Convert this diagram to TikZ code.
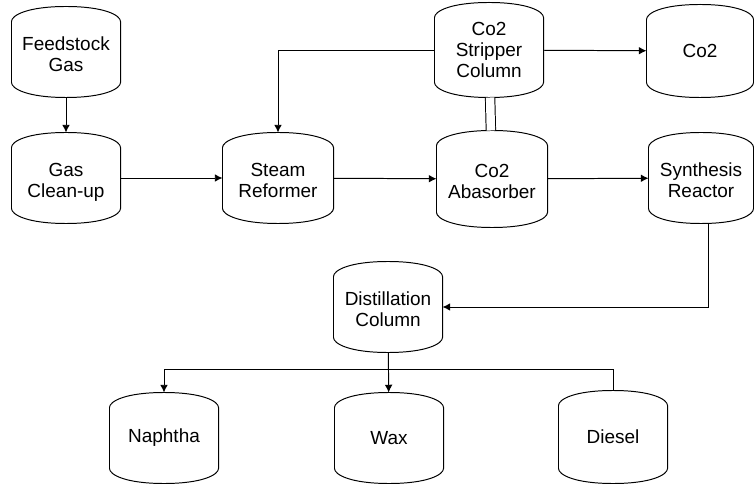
\documentclass[tikz,border=0pt]{standalone}
\usepackage{fontspec}
\setmainfont{Liberation Sans}
\usetikzlibrary{calc,arrows.meta}
\def\drum(#1){\draw ($(#1.south west)+(0,0.375cm)$) -- ($(#1.north west)+(0,-0.375cm)$)
	.. controls +(0,0.16cm) and +(-0.95cm,0) .. (#1.north)
	.. controls +(0.95cm,0) and +(0,0.16cm) .. ($(#1.north east)+(0,-0.375cm)$)
	-- ($(#1.south east)+(0,0.375cm)$)
	.. controls +(0,-0.16cm) and +(0.95cm,0) .. (#1.south)
	.. controls +(-0.95cm,0) and +(0,-0.16cm) .. cycle;}
\def\lbl#1{\raisebox{-0.11cm}[\height][\depth]{\begin{tabular}{@{}c@{}}#1\end{tabular}}}
\tikzset{
	tank/.style={align=center, minimum width=2.7cm, minimum height=2.25cm, inner sep=0pt,
		font=\fontsize{13.5}{15}\selectfont},
	flow/.style={-{Latex[length=5.5pt,width=5.5pt]}}
}

\begin{document}
\begin{tikzpicture}[x=0.025cm, y=-0.025cm, line width=0.7pt]
		%%%%% START %%%%%
		\useasboundingbox (0,0) rectangle (754,484);
		
		\node[tank] (feed) at (66, 52) {\lbl{Feedstock\\Gas}};
		\node[tank] (clean) at (66, 178) {\lbl{Gas\\Clean-up}};
		\node[tank, minimum width=2.75cm] (steam) at (278, 178) {\lbl{Steam\\Reformer}};
		\node[tank, minimum height=2.35cm] (strip) at (489, 50) {Co2\\Stripper\\Column};
		\node[tank, minimum width=2.65cm, minimum height=2.3cm] (co) at (700, 51) {Co2};
		\node[tank, minimum width=2.75cm, minimum height=2.4cm] (absorb) at (492, 179) {\lbl{Co2\\Abasorber}};
		\node[tank, minimum width=2.6cm] (synth) at (701, 178) {\lbl{Synthesis\\Reactor}};
		\node[tank] (dist) at (388, 307) {\lbl{Distillation\\Column}};
		\node[tank] (naph) at (164, 438) {Naphtha};
		\node[tank] (wax) at (389, 438) {Wax};
		\node[tank, minimum height=2.3cm] (dies) at (613, 437) {Diesel};
		
		\drum(feed); \drum(clean); \drum(steam);
		\drum(strip); \drum(co); \drum(absorb); \drum(synth);
		\drum(dist); \drum(naph); \drum(wax); \drum(dies);
		
		\draw[flow] (feed) -- (clean);
		\draw[flow] (clean) -- (steam);
		\draw[flow] (steam) -- (absorb);
		\draw[flow] (absorb) -- (synth);
		\draw[flow] (strip) -- (co);
		\draw[flow] (strip.west) -| (steam.north);
		\draw[double, double distance=6pt] (strip) -- (absorb);
		
		\coordinate (drop) at ($(synth.south)+(7,0)$);
		\draw[flow] (drop) |- (dist.east);
		
		\coordinate (branch) at (dist.south |- 0,369);
		\draw[flow] (dist) -- (wax);
		\draw[flow] (branch) -| (naph.north);
		\draw (branch) -| (dies.north);
		%%%%% END %%%%%
	\end{tikzpicture}
\end{document}
